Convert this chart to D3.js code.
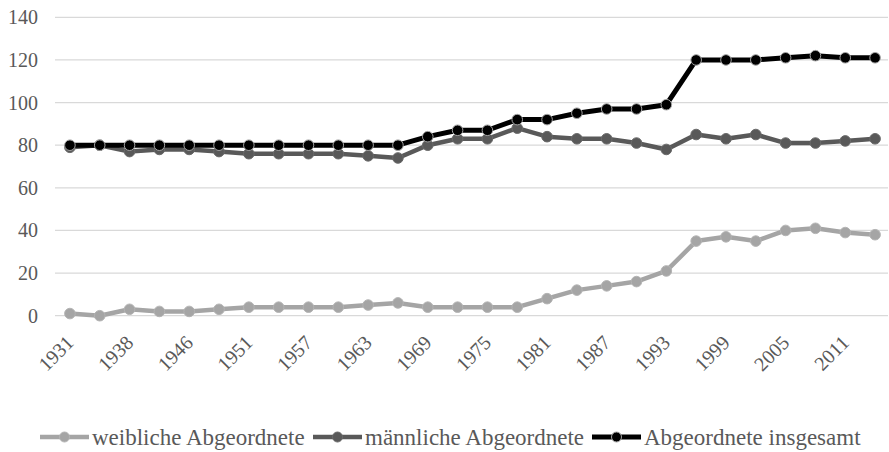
<!DOCTYPE html>
<html>
<head>
<meta charset="utf-8">
<script src="https://cdn.jsdelivr.net/npm/d3@7"></script>
<style>
  body { margin: 0; background: #fff; }
  svg { display: block; font-family: "Liberation Serif", "Times New Roman", serif; }
</style>
</head>
<body>
<svg width="889" height="452"></svg>
<script>
const jahre = ["1931", "1935", "1938", "1942", "1946", "1949", "1951", "1954", "1957", "1960",
    "1963", "1966", "1969", "1972", "1975", "1978", "1981", "1984", "1987", "1990",
    "1993", "1996", "1999", "2002", "2005", "2008", "2011", "2014"]
const weiblich = [1, 0, 3, 2, 2, 3, 4, 4, 4, 4, 5, 6, 4, 4, 4, 4, 8, 12, 14, 16, 21, 35, 37, 35, 40, 41, 39, 38]
const maennlich = [79, 80, 77, 78, 78, 77, 76, 76, 76, 76, 75, 74, 80, 83, 83, 88, 84, 83, 83, 81, 78, 85, 83, 85, 81, 81, 82, 83]
const insgesamt = [80, 80, 80, 80, 80, 80, 80, 80, 80, 80, 80, 80, 84, 87, 87, 92, 92, 95, 97, 97, 99, 120, 120, 120, 121, 122, 121, 121]
const yTicks = [0, 20, 40, 60, 80, 100, 120, 140]

const reihen = [
    { name: "weibliche Abgeordnete", werte: weiblich, linie: "#a5a5a5", punkt: "#a5a5a5", rand: "#b4b4b4", breite: 4.5 },
    { name: "männliche Abgeordnete", werte: maennlich, linie: "#595959", punkt: "#595959", rand: "#6a6a6a", breite: 4.5 },
    { name: "Abgeordnete insgesamt", werte: insgesamt, linie: "#000000", punkt: "#000000", rand: "#a5a5a5", breite: 5 }
]

const svg = d3.select('svg')
const links = 55, rechts = 890, oben = 17.3, unten = 315.7

const x = d3.scaleBand()
    .domain(jahre)
    .range([links, rechts])
const y = d3.scaleLinear()
    .domain([0, 140])
    .range([unten, oben])

// Gitterlinien
svg.append('g')
    .selectAll('line')
    .data(yTicks)
    .enter().append('line')
    .attr('x1', links)
    .attr('x2', rechts - 2)
    .attr('y1', d => y(d))
    .attr('y2', d => y(d))
    .attr('stroke', '#d9d9d9')
    .attr('stroke-width', 1.3)

// y-Achse
svg.append('g')
    .selectAll('text')
    .data(yTicks)
    .enter().append('text')
    .attr('x', 38)
    .attr('y', d => y(d))
    .attr('dy', '0.35em')
    .attr('text-anchor', 'end')
    .attr('font-size', 20)
    .attr('fill', '#595959')
    .text(d => d)

// x-Achse, jede zweite Beschriftung
const mitte = d => x(d) + x.bandwidth() / 2
svg.append('g')
    .selectAll('text')
    .data(jahre.filter((d, i) => i % 2 === 0))
    .enter().append('text')
    .attr('transform', d => `translate(${mitte(d) + 5},${344}) rotate(-45)`)
    .attr('text-anchor', 'end')
    .attr('font-size', 20)
    .attr('fill', '#595959')
    .text(d => d)

const linie = d3.line()
    .x((d, i) => mitte(jahre[i]))
    .y(d => y(d))

reihen.forEach(r => {
    const g = svg.append('g')
    g.append('path')
        .attr('d', linie(r.werte))
        .attr('fill', 'none')
        .attr('stroke', r.linie)
        .attr('stroke-width', r.breite)
        .attr('stroke-linejoin', 'round')
    g.selectAll('circle')
        .data(r.werte)
        .enter().append('circle')
        .attr('cx', (d, i) => mitte(jahre[i]))
        .attr('cy', d => y(d))
        .attr('r', 5.3)
        .attr('fill', r.punkt)
        .attr('stroke', r.rand)
        .attr('stroke-width', 1)
})

// Legende
const legende = svg.append('g').attr('transform', 'translate(0,437)')
const legX = [40, 313, 592]
reihen.forEach((r, i) => {
    const item = legende.append('g').attr('transform', `translate(${legX[i]},0)`)
    item.append('line')
        .attr('x1', 0).attr('x2', 49)
        .attr('stroke', r.linie)
        .attr('stroke-width', r.breite)
    item.append('circle')
        .attr('cx', 24.5).attr('r', 5)
        .attr('fill', r.punkt)
        .attr('stroke', r.rand)
    item.append('text')
        .attr('x', 52)
        .attr('dy', '0.35em')
        .attr('font-size', 23)
        .attr('fill', '#595959')
        .text(r.name)
})
</script>
</body>
</html>
